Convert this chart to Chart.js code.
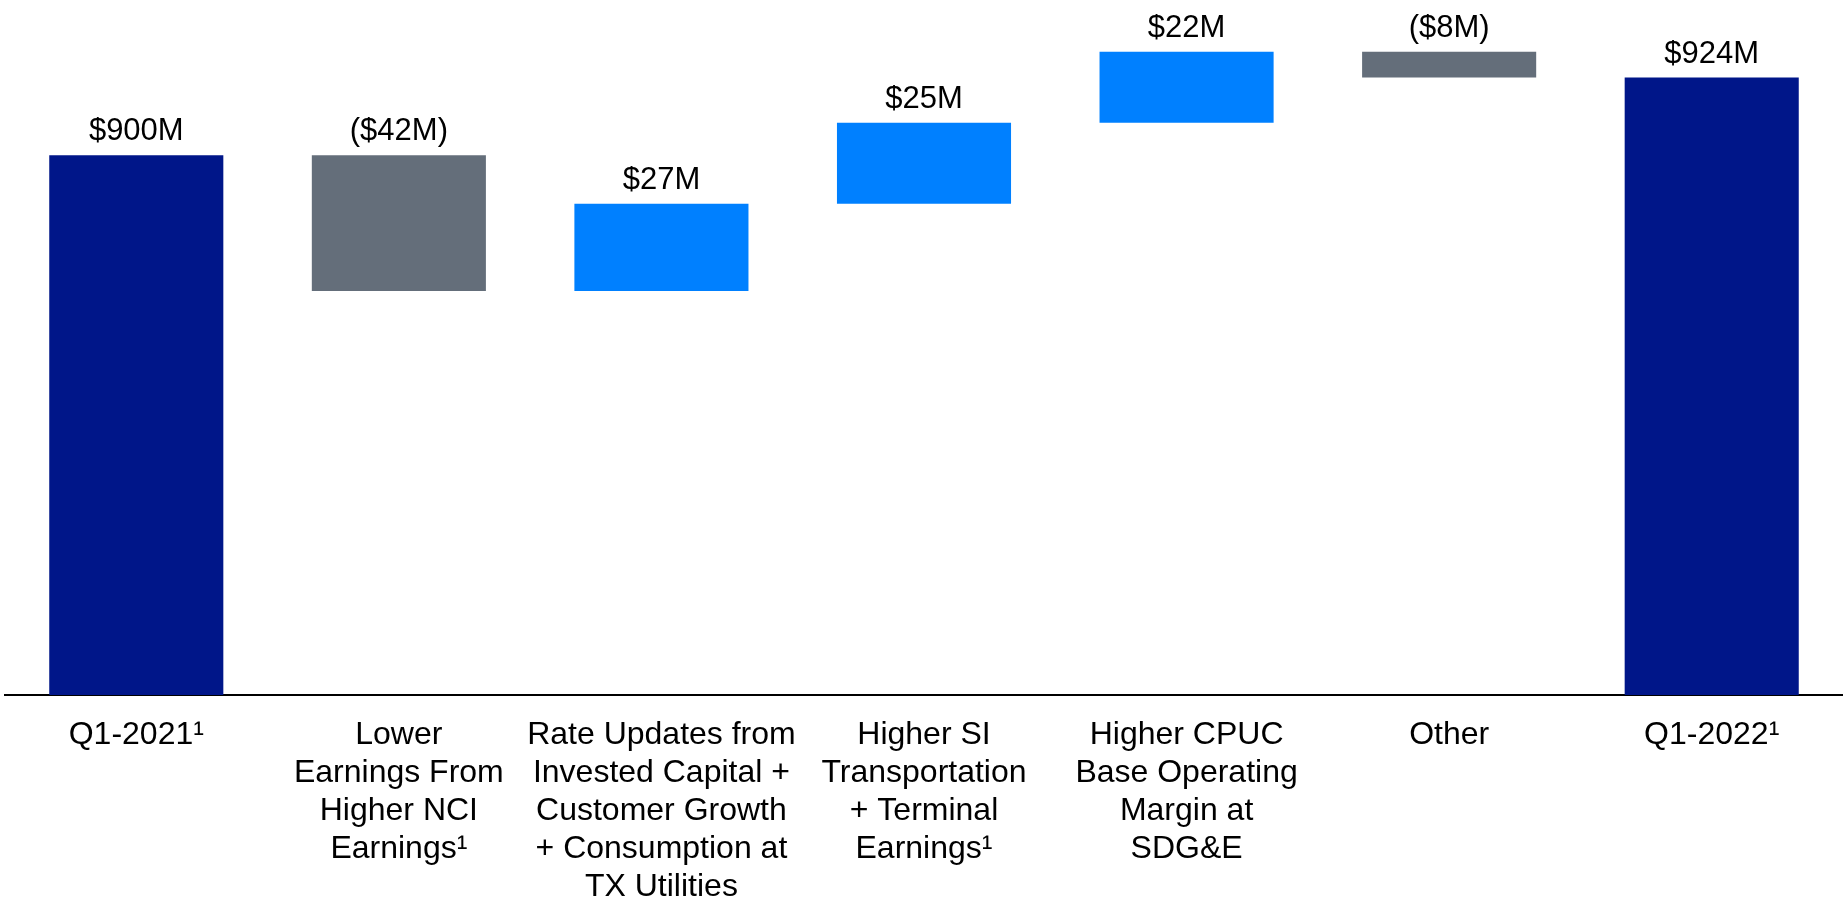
<!DOCTYPE html>
<html lang="en">
<head>
  <meta charset="UTF-8">
  <title>Q1 Earnings Bridge</title>
  <script src="https://cdn.jsdelivr.net/npm/chart.js"></script>
  <style>
    html, body { margin: 0; padding: 0; background: #fff; }
    #wrap { width: 1843px; height: 900px; }
  </style>
</head>
<body>
<div id="wrap"><canvas id="bridgeChart"></canvas></div>

<script>
// categories (¹ = footnote marker)
const categories = [
  'Q1-2021¹',
  ['Lower', 'Earnings From', 'Higher NCI', 'Earnings¹'],
  ['Rate Updates from', 'Invested Capital +', 'Customer Growth', '+ Consumption at', 'TX Utilities'],
  ['Higher SI', 'Transportation', '+ Terminal', 'Earnings¹'],
  ['Higher CPUC', 'Base Operating', 'Margin at', 'SDG&E'],
  'Other',
  'Q1-2022¹'
];

// $M
const startTotal = 900;
const changes = [-42, 27, 25, 22, -8];
const endTotal = 924;
const valueLabels = ['$900M', '($42M)', '$27M', '$25M', '$22M', '($8M)', '$924M'];

const NAVY = '#001689';
const GRAY = '#646e7a';
const BLUE = '#0080ff';
const FONT = '"Liberation Sans", Arial, sans-serif';

// floating bars built from the running total
const bars = [[0, startTotal]];
const colors = [NAVY];
let running = startTotal;
changes.forEach(d => {
  bars.push([running, running + d]);
  colors.push(d < 0 ? GRAY : BLUE);
  running += d;
});
bars.push([0, endTotal]);
colors.push(NAVY);

const valueLabelPlugin = {
  id: 'valueLabels',
  afterDatasetsDraw(chart) {
    const ctx = chart.ctx;
    const meta = chart.getDatasetMeta(0);
    ctx.save();
    ctx.font = '31px ' + FONT;
    ctx.fillStyle = '#000';
    ctx.textAlign = 'center';
    ctx.textBaseline = 'alphabetic';
    meta.data.forEach((bar, i) => {
      const top = Math.min(bar.y, bar.base);
      ctx.fillText(valueLabels[i], bar.x, top - 15);
    });
    ctx.restore();
  }
};

new Chart(document.getElementById('bridgeChart'), {
  type: 'bar',
  data: {
    labels: categories,
    datasets: [{
      data: bars,
      backgroundColor: colors,
      borderWidth: 0,
      barPercentage: 0.663,
      categoryPercentage: 1
    }]
  },
  options: {
    responsive: true,
    maintainAspectRatio: false,
    devicePixelRatio: 1,
    animation: false,
    layout: { padding: { left: 5, right: 0, top: 0, bottom: 0 } },
    plugins: {
      legend: { display: false },
      tooltip: { enabled: false }
    },
    scales: {
      x: {
        grid: { display: false, drawTicks: false },
        border: { display: true, color: '#000', width: 2 },
        ticks: {
          color: '#000',
          maxRotation: 0,
          autoSkip: false,
          padding: 21,
          font: { family: FONT, size: 32, lineHeight: 1.19 }
        },
        afterFit(scale) { scale.height = 205; }
      },
      y: {
        display: false,
        min: 733,
        max: 948
      }
    }
  },
  plugins: [valueLabelPlugin]
});
</script>
</body>
</html>
